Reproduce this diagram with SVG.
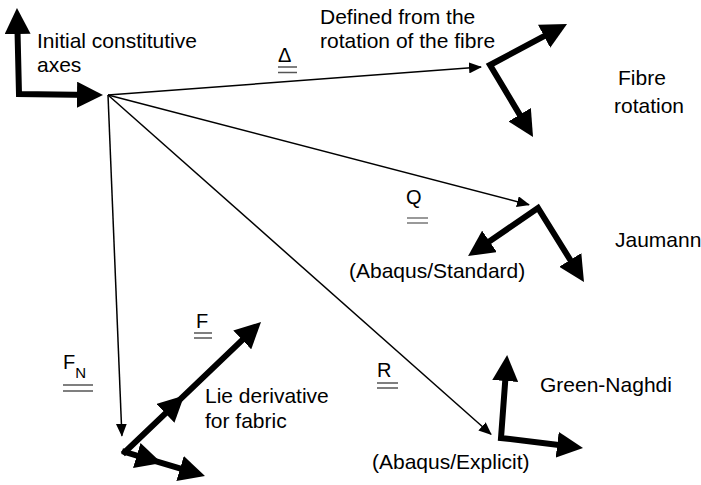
<svg xmlns="http://www.w3.org/2000/svg" width="701" height="485" viewBox="0 0 701 485">
<defs>
<marker id="big" markerUnits="userSpaceOnUse" viewBox="0 0 26 26" markerWidth="26" markerHeight="26" refX="16" refY="13" orient="auto-start-reverse"><path d="M0,0 L26,13 L0,26 z" fill="#000"/></marker>
<marker id="small" markerUnits="userSpaceOnUse" viewBox="0 0 13 11" markerWidth="13" markerHeight="11" refX="12" refY="5.5" orient="auto"><path d="M0,0 L13,5.5 L0,11 z" fill="#000"/></marker>
</defs>
<style>
text{font-family:"Liberation Sans",Arial,sans-serif;font-size:21px;fill:#000}
.lbl{font-size:20px}
.sub{font-size:15px}
.frame{fill:none;stroke:#000;stroke-width:6;stroke-linejoin:miter}
.seg{fill:none;stroke:#000;stroke-width:6;stroke-linecap:square}
.conn{fill:none;stroke:#000;stroke-width:1.5}
.dbl{stroke:#555;stroke-width:1.5}
</style>
<g id="connectors">
<path class="conn" d="M108,95 L481,67" marker-end="url(#small)"/>
<path class="conn" d="M108,95 L529,204.7" marker-end="url(#small)"/>
<path class="conn" d="M108,95 L491,434.3" marker-end="url(#small)"/>
<path class="conn" d="M108,95 L121.9,435.7" marker-end="url(#small)"/>
</g>
<g id="initial-axes">
<path class="frame" d="M17.2,18 L19,94 L93,94.9" marker-start="url(#big)" marker-end="url(#big)"/>
<text x="37" y="48">Initial constitutive</text>
<text x="37" y="72">axes</text>
</g>
<g id="fibre-rotation">
<path class="frame" d="M558.2,28.7 L490,65 L527.9,128.4" marker-start="url(#big)" marker-end="url(#big)"/>
<text x="320" y="24">Defined from the</text>
<text x="320" y="48">rotation of the fibre</text>
<text x="618" y="85">Fibre</text>
<text x="614" y="113">rotation</text>
</g>
<g id="label-delta">
<text class="lbl" x="278" y="62">Δ</text>
<line class="dbl" x1="278" y1="67" x2="297" y2="67"/>
<line class="dbl" x1="278" y1="72.5" x2="297" y2="72.5"/>
</g>
<g id="jaumann">
<path class="frame" d="M476.3,250.4 L538,208 L578.7,273.5" marker-start="url(#big)" marker-end="url(#big)"/>
<text x="615" y="247">Jaumann</text>
<text x="349" y="278">(Abaqus/Standard)</text>
</g>
<g id="label-q">
<text class="lbl" x="406" y="204">Q</text>
<line class="dbl" x1="407" y1="218" x2="428" y2="218" style="stroke:#777"/>
<line class="dbl" x1="407" y1="223" x2="428" y2="223" style="stroke:#777"/>
</g>
<g id="green-naghdi">
<path class="frame" d="M506.4,365 L501,438 L573.1,446.7" marker-start="url(#big)" marker-end="url(#big)"/>
<text x="540" y="392">Green-Naghdi</text>
<text x="372" y="469">(Abaqus/Explicit)</text>
</g>
<g id="label-r">
<text class="lbl" x="377" y="377">R</text>
<line class="dbl" x1="377" y1="383" x2="398" y2="383"/>
<line class="dbl" x1="377" y1="388" x2="398" y2="388"/>
</g>
<g id="fabric">
<path class="seg" d="M125,452 L177,402.3 L253.8,328.9" marker-mid="url(#big)" marker-end="url(#big)"/>
<path class="seg" d="M125,452 L152.1,460.1 L195.4,473.1" marker-mid="url(#big)" marker-end="url(#big)"/>
<text x="205" y="403">Lie derivative</text>
<text x="205" y="428">for fabric</text>
</g>
<g id="label-f">
<text class="lbl" x="196" y="328">F</text>
<line class="dbl" x1="194" y1="333" x2="212" y2="333"/>
<line class="dbl" x1="194" y1="338" x2="212" y2="338"/>
</g>
<g id="label-fn">
<text class="lbl" x="63" y="369">F<tspan class="sub" dy="9">N</tspan></text>
<line class="dbl" x1="63" y1="385" x2="93" y2="385"/>
<line class="dbl" x1="63" y1="391" x2="93" y2="391"/>
</g>
</svg>
